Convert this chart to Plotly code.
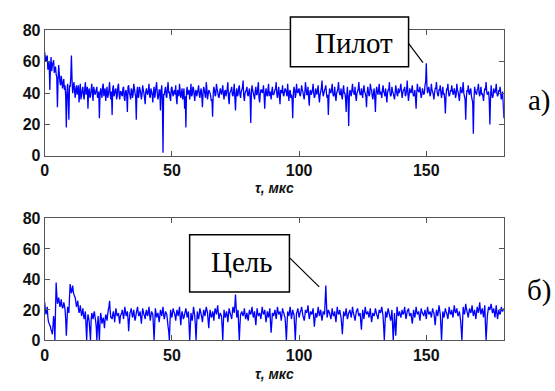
import plotly.graph_objects as go

W, H = 555, 391

# ---- data ----
# samples on the 0.5 us grid
tau_step = 0.5
pilot = [
    66, 60, 64, 57, 42, 63, 58, 61, 55, 52, 31, 58, 47, 51, 43, 49, 45, 18, 46, 23,
    44, 64, 40, 47, 37, 45, 42, 34, 46, 39, 44, 36, 47, 41, 30, 43, 38, 46, 35, 42,
    40, 44, 38, 24, 43, 37, 46, 41, 35, 44, 39, 47, 36, 26, 45, 40, 43, 38, 46, 36,
    41, 38, 44, 35, 42, 28, 45, 39, 43, 37, 46, 40, 23, 44, 38, 42, 36, 45, 40, 33,
    43, 39, 46, 37, 41, 34, 44, 40, 47, 36, 42, 29, 45, 2, 39, 44, 37, 47, 41, 35,
    44, 38, 42, 45, 33, 40, 46, 37, 43, 39, 30, 18, 44, 41, 36, 46, 39, 43, 35, 42,
    40, 45, 37, 43, 31, 44, 39, 47, 36, 42, 40, 35, 25, 44, 38, 46, 41, 37, 43, 39,
    45, 36, 42, 40, 47, 33, 41, 44, 38, 46, 29, 43, 39, 45, 37, 42, 48, 35, 41, 44,
    38, 43, 21, 45, 40, 36, 44, 39, 47, 34, 42, 40, 45, 30, 43, 38, 46, 41, 36, 44,
    39, 42, 47, 37, 44, 33, 41, 45, 38, 43, 40, 46, 35, 42, 39, 24, 44, 37, 46, 40,
    43, 38, 45, 41, 36, 47, 39, 44, 32, 42, 40, 46, 37, 43, 39, 45, 34, 41, 48, 38,
    42, 45, 37, 26, 43, 40, 46, 38, 44, 35, 41, 47, 39, 43, 36, 45, 40, 28, 44, 19,
    42, 38, 46, 40, 44, 35, 41, 47, 39, 43, 37, 45, 40, 31, 44, 38, 46, 42, 36, 43,
    28, 44, 39, 46, 41, 37, 45, 40, 43, 34, 42, 47, 38, 44, 40, 36, 45, 39, 43, 41,
    46, 37, 42, 44, 39, 48, 35, 43, 40, 45, 38, 42, 30, 46, 41, 44, 37, 43, 39, 45,
    59, 40, 44, 38, 46, 41, 36, 43, 47, 39, 42, 45, 37, 44, 40, 27, 43, 46, 38, 42,
    45, 39, 43, 37, 46, 41, 35, 44, 40, 47, 38, 23, 42, 45, 39, 43, 36, 14, 44, 40,
    42, 46, 38, 44, 40, 35, 43, 47, 39, 41, 20, 45, 37, 43, 40, 46, 38, 42, 44, 36,
    41, 24,
]
# samples halfway between the ones above
pilot_mid = [
    62, 63, 55, 60, 56, 54, 59, 53, 57, 50, 48, 52, 45, 48, 46, 42, 38, 40, 36, 45,
    50, 48, 44, 41, 43, 39, 45, 40, 36, 42, 38, 43, 39, 44, 41, 37, 42, 40, 44, 39,
    42, 37, 41, 39, 40, 44, 38, 43, 40, 37, 42, 39, 41, 43, 38, 42, 36, 44, 39, 41,
    39, 43, 37, 41, 38, 44, 40, 36, 42, 39, 43, 38, 41, 37, 44, 40, 39, 42, 37, 41,
    40, 42, 38, 43, 39, 41, 37, 44, 40, 38, 42, 40, 36, 39, 42, 38, 43, 40, 37, 43,
    40, 41, 39, 37, 42, 38, 41, 40, 36, 43, 38, 41, 39, 42, 40, 38, 44, 39, 41, 38,
    42, 39, 41, 38, 40, 42, 37, 43, 39, 41, 38, 36, 40, 42, 39, 43, 38, 40, 41, 42,
    39, 41, 38, 43, 37, 40, 42, 39, 41, 37, 40, 38, 43, 39, 41, 44, 38, 40, 42, 39,
    41, 37, 40, 42, 38, 41, 39, 43, 37, 40, 42, 41, 38, 40, 39, 42, 38, 40, 41, 39,
    40, 43, 39, 41, 38, 42, 40, 39, 41, 42, 38, 40, 41, 37, 36, 40, 42, 39, 41, 42,
    39, 41, 42, 38, 40, 43, 39, 37, 41, 39, 42, 40, 38, 41, 42, 38, 39, 43, 41, 40,
    43, 40, 39, 38, 41, 42, 40, 39, 38, 40, 43, 41, 39, 38, 42, 40, 37, 39, 36, 38,
    40, 42, 41, 39, 38, 40, 43, 41, 39, 40, 42, 41, 38, 40, 41, 39, 43, 38, 40, 37,
    40, 41, 42, 39, 40, 42, 41, 38, 39, 40, 42, 40, 39, 41, 38, 40, 42, 38, 40, 43,
    41, 40, 42, 38, 42, 40, 39, 41, 42, 40, 39, 37, 40, 42, 41, 40, 39, 41, 40, 47,
    45, 42, 41, 40, 42, 39, 40, 43, 41, 38, 42, 40, 41, 39, 36, 38, 42, 40, 39, 41,
    42, 40, 41, 39, 42, 38, 40, 41, 42, 40, 36, 37, 41, 40, 42, 38, 34, 36, 41, 39,
    43, 40, 41, 39, 38, 40, 42, 41, 40, 35, 37, 40, 38, 41, 42, 40, 39, 41, 40, 39,
    33,
]
target = [
    25, 17, 22, 12, 10, 7, 4, 16, 0, 38, 24, 28, 22, 27, 21, 25, 20, 3, 22, 18,
    37, 31, 36, 30, 28, 22, 26, 18, 23, 16, 21, 14, 19, 0, 17, 12, 0, 18, 14, 19,
    13, 0, 16, 0, 18, 11, 15, 8, 17, 13, 20, 26, 15, 14, 19, 12, 21, 16, 18, 11,
    17, 20, 14, 22, 16, 19, 6, 18, 21, 15, 20, 13, 18, 22, 16, 19, 11, 21, 17, 14,
    20, 16, 22, 13, 19, 17, 0, 21, 15, 18, 12, 20, 16, 22, 14, 19, 17, 9, 0, 20,
    15, 21, 18, 13, 20, 16, 22, 10, 19, 14, 17, 21, 15, 19, 0, 18, 13, 22, 16, 0,
    19, 14, 21, 17, 12, 20, 16, 22, 18, 8, 20, 15, 19, 13, 21, 17, 23, 14, 18, 16,
    0, 20, 15, 19, 12, 21, 17, 14, 22, 18, 30, 15, 20, 0, 17, 19, 16, 21, 14, 18,
    13, 20, 17, 22, 15, 19, 10, 21, 16, 18, 14, 22, 17, 20, 12, 19, 15, 21, 5, 18,
    16, 20, 14, 22, 17, 19, 13, 21, 18, 15, 0, 19, 16, 22, 14, 20, 17, 0, 18, 21,
    15, 19, 22, 16, 13, 20, 18, 23, 14, 19, 17, 21, 9, 18, 15, 22, 16, 20, 13, 19,
    17, 36, 15, 20, 18, 14, 21, 16, 19, 12, 22, 17, 20, 15, 4, 19, 16, 21, 14, 18,
    20, 15, 22, 17, 13, 19, 21, 16, 18, 7, 20, 14, 22, 17, 19, 15, 21, 12, 18, 16,
    21, 17, 14, 20, 18, 22, 16, 0, 19, 15, 21, 17, 13, 20, 0, 18, 3, 22, 16, 19,
    15, 20, 17, 22, 14, 19, 21, 16, 18, 11, 20, 15, 22, 17, 19, 13, 21, 18, 16, 20,
    14, 22, 17, 19, 15, 21, 18, 10, 20, 16, 23, 17, 0, 19, 15, 21, 18, 14, 22, 17,
    20, 15, 23, 18, 21, 16, 19, 13, 0, 22, 17, 24, 19, 15, 21, 18, 23, 16, 20, 14,
    22, 18, 25, 17, 21, 15, 23, 0, 16, 22, 20, 24, 18, 21, 15, 23, 14, 20, 17, 22,
    19, 21,
]
target_mid = [
    20, 19, 15, 11, 9, 6, 9, 12, 20, 30, 26, 25, 24, 23, 22, 23, 14, 12, 20, 28,
    34, 33, 32, 29, 25, 24, 21, 20, 19, 18, 17, 16, 9, 12, 15, 6, 13, 16, 17, 16,
    9, 10, 7, 12, 15, 13, 12, 14, 15, 17, 22, 19, 15, 17, 16, 17, 18, 17, 14, 16,
    18, 17, 18, 19, 17, 14, 13, 19, 18, 17, 16, 15, 20, 18, 17, 15, 16, 19, 16, 18,
    17, 19, 17, 16, 18, 9, 11, 18, 17, 15, 16, 18, 19, 17, 16, 18, 13, 6, 12, 17,
    18, 19, 16, 17, 18, 19, 15, 16, 17, 15, 19, 18, 17, 10, 9, 15, 17, 19, 9, 11,
    16, 17, 19, 15, 16, 18, 19, 20, 13, 15, 17, 16, 17, 18, 19, 20, 18, 16, 17, 9,
    12, 17, 17, 16, 17, 19, 16, 18, 20, 23, 22, 17, 9, 10, 18, 17, 18, 17, 16, 15,
    17, 18, 19, 18, 17, 14, 16, 18, 17, 16, 18, 19, 18, 16, 15, 17, 18, 12, 11, 17,
    18, 17, 18, 19, 18, 16, 17, 19, 16, 8, 10, 17, 19, 18, 17, 18, 9, 10, 19, 18,
    17, 20, 19, 15, 16, 19, 20, 18, 16, 18, 19, 15, 14, 16, 18, 19, 18, 16, 16, 18,
    26, 25, 17, 19, 16, 17, 18, 17, 15, 17, 19, 18, 17, 10, 11, 17, 18, 17, 16, 19,
    17, 18, 19, 15, 16, 20, 18, 17, 12, 14, 17, 18, 19, 18, 17, 18, 16, 15, 17, 18,
    19, 16, 17, 19, 20, 19, 9, 10, 17, 18, 19, 15, 16, 10, 9, 10, 12, 19, 17, 17,
    17, 18, 19, 18, 16, 20, 18, 17, 14, 15, 17, 18, 19, 18, 16, 17, 19, 17, 18, 17,
    18, 19, 18, 17, 18, 19, 14, 15, 18, 19, 20, 9, 10, 17, 18, 19, 16, 18, 19, 18,
    17, 19, 20, 19, 18, 17, 16, 7, 11, 19, 20, 21, 17, 18, 19, 20, 19, 18, 17, 18,
    20, 21, 20, 19, 18, 19, 11, 8, 19, 21, 22, 21, 19, 18, 19, 18, 17, 18, 19, 20,
    20,
]

x_ticks = [0, 50, 100, 150]
y_ticks = [0, 20, 40, 60, 80]
x_title = "τ, мкс"
label_pilot = "Пилот"
label_target = "Цель"
panel_a = "а)"
panel_b = "б)"


def interleave(main, mid):
    xs, ys = [], []
    for i, v in enumerate(main):
        xs.append(i * tau_step)
        ys.append(v)
        if i < len(mid):
            xs.append(i * tau_step + tau_step / 2)
            ys.append(mid[i])
    return xs, ys


tau_p, val_p = interleave(pilot, pilot_mid)
tau_t, val_t = interleave(target, target_mid)

# ---- layout helpers (pixel -> paper) ----
def px(x):
    return x / W


def py(y):
    return 1 - y / H


LINE = "#0000ff"
AX = "#555555"
tickfont = dict(family="Liberation Sans, Arial, sans-serif", size=16, color="#111111", weight="bold")

fig = go.Figure()
fig.add_trace(go.Scatter(x=tau_p, y=val_p, mode="lines",
                         line=dict(color=LINE, width=1.3, simplify=False),
                         xaxis="x", yaxis="y", showlegend=False, hoverinfo="skip"))
fig.add_trace(go.Scatter(x=tau_t, y=val_t, mode="lines",
                         line=dict(color=LINE, width=1.3, simplify=False),
                         xaxis="x2", yaxis="y2", showlegend=False, hoverinfo="skip"))

axis_common = dict(showline=True, linecolor=AX, linewidth=1, mirror="ticks",
                   ticks="inside", ticklen=5, tickcolor=AX, tickwidth=1,
                   showgrid=False, zeroline=False, tickfont=tickfont)

xdom = [px(41), px(503.5)]
fig.update_layout(
    width=W, height=H, autosize=False,
    margin=dict(l=0, r=0, t=0, b=0),
    paper_bgcolor="white", plot_bgcolor="white",
    xaxis=dict(domain=xdom, range=[0, 180.5], tickvals=x_ticks, anchor="y", **axis_common),
    yaxis=dict(domain=[py(154.5), py(23.5)], range=[0, 80], tickvals=y_ticks, anchor="x", **axis_common),
    xaxis2=dict(domain=xdom, range=[0, 180.5], tickvals=x_ticks, anchor="y2", **axis_common),
    yaxis2=dict(domain=[py(347.5), py(220)], range=[0, 80], tickvals=y_ticks, anchor="x2", **axis_common),
)

shapes = []
annotations = []


def box(x0, y0, x1, y1):
    shapes.append(dict(type="rect", xref="paper", yref="paper",
                       x0=px(x0), x1=px(x1), y0=py(y1), y1=py(y0),
                       line=dict(color="black", width=1.5), fillcolor="white", layer="above"))


def seg(x0, y0, x1, y1):
    shapes.append(dict(type="line", xref="paper", yref="paper",
                       x0=px(x0), x1=px(x1), y0=py(y0), y1=py(y1),
                       line=dict(color="black", width=1.2), layer="above"))


def text(x, y, s, font):
    annotations.append(dict(xref="paper", yref="paper", x=px(x), y=py(y), text=s,
                            showarrow=False, xanchor="center", yanchor="middle", font=font))


serif = dict(family="Liberation Serif, Tinos, Times New Roman, DejaVu Serif, serif", size=29, color="black")
box(288.5, 9.5, 407.5, 61.5)
seg(407.5, 37, 422, 57)
text(353, 37, label_pilot, serif)

box(187, 237, 287.5, 297)
seg(287.5, 261, 317.5, 291.5)
text(240, 266, label_target, serif)

text(539, 97, panel_a, serif)
text(539, 295, panel_b, serif)

tfont = dict(family="Liberation Sans, Arial, sans-serif", size=14, color="#111111", weight="bold", style="italic")
text(272, 188, x_title, tfont)
text(272, 383, x_title, tfont)

fig.update_layout(shapes=shapes, annotations=annotations)
fig.write_html("out.html")
